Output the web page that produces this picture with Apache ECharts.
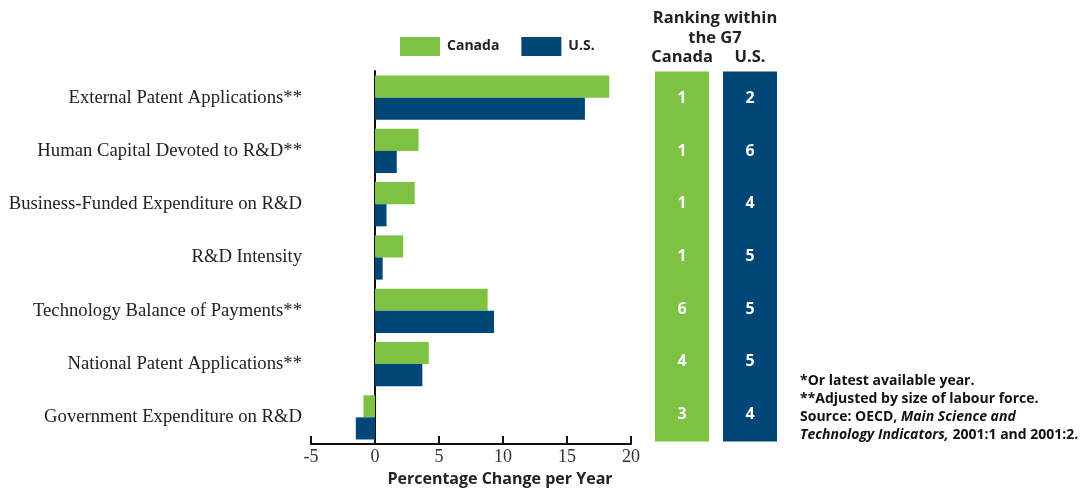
<!DOCTYPE html>
<html>
<head>
<meta charset="utf-8">
<script src="https://cdn.jsdelivr.net/npm/echarts@6/dist/echarts.min.js"></script>
<style>
  html, body { margin: 0; padding: 0; background: #fff; }
  #main { width: 1086px; height: 490px; }
</style>
</head>
<body>
<div id="main"></div>
<script>
// data
var categories = [
  'External Patent Applications**',
  'Human Capital Devoted to R&D**',
  'Business-Funded Expenditure on R&D',
  'R&D Intensity',
  'Technology Balance of Payments**',
  'National Patent Applications**',
  'Government Expenditure on R&D'
]
var canada = [18.3, 3.4, 3.1, 2.2, 8.8, 4.2, -0.9]
var us = [16.4, 1.7, 0.9, 0.6, 9.3, 3.7, -1.5]
var rankCanada = [1, 1, 1, 1, 6, 4, 3]
var rankUS = [2, 6, 4, 5, 5, 5, 4]
var rankCols = ['Canada', 'U.S.']
var xTicks = [-5, 0, 5, 10, 15, 20]

var GREEN = '#7dc243'
var BLUE = '#004677'
var SANS = '"Open Sans", "Noto Sans", sans-serif'
var SERIF = '"Liberation Serif", "DejaVu Serif", serif'

var chart = echarts.init(document.getElementById('main'))

// ranking column cells (column index, row index, rank)
function rankData (ranks, col) {
  return ranks.map(function (r, i) { return [col, i, r] })
}

function rankRender (color) {
  return function (params, api) {
    var c = api.coord([api.value(0), api.value(1)])
    var size = api.size([1, 1])
    return {
      type: 'group',
      children: [
        {
          type: 'rect',
          shape: { x: c[0] - 27, y: c[1] - size[1] / 2 - 0.5, width: 54, height: size[1] + 1 },
          style: { fill: color }
        },
        {
          type: 'text',
          style: {
            text: String(api.value(2)),
            x: c[0], y: c[1],
            align: 'center', verticalAlign: 'middle',
            fill: '#fff',
            font: 'bold 16px ' + SANS
          }
        }
      ]
    }
  }
}

chart.setOption({
  animation: false,
  legend: {
    left: 395,
    top: 32,
    itemWidth: 40,
    itemHeight: 19,
    itemGap: 22,
    icon: 'rect',
    textStyle: { fontFamily: SANS, fontWeight: 'bold', fontSize: 14, color: '#222', padding: [0, 0, 0, 2] },
    data: ['Canada', 'U.S.']
  },
  grid: [
    { left: 311, right: 455, top: 71, bottom: 46, outerBoundsMode: 'none' },
    { left: 648, width: 136, top: 72, bottom: 49, outerBoundsMode: 'none' }
  ],
  xAxis: [
    {
      gridIndex: 0,
      type: 'value',
      min: -5,
      max: 20,
      interval: 5,
      axisLine: { show: true, onZero: false, lineStyle: { color: '#111', width: 2 } },
      axisTick: { show: true, inside: true, length: 8, lineStyle: { color: '#111', width: 2 } },
      axisLabel: {
        margin: 4,
        fontFamily: SERIF,
        fontSize: 18,
        color: '#333',
        formatter: function (v) { return xTicks.indexOf(v) >= 0 ? String(v) : '' }
      },
      splitLine: { show: false },
      name: 'Percentage Change per Year',
      nameLocation: 'middle',
      nameGap: 27,
      nameTextStyle: { fontFamily: SANS, fontWeight: 'bold', fontSize: 16, color: '#222', padding: [0, 0, 0, 58] }
    },
    {
      gridIndex: 1,
      type: 'category',
      position: 'top',
      data: rankCols,
      axisLine: { show: false },
      axisTick: { show: false },
      axisLabel: { interval: 0, margin: 6, fontFamily: SANS, fontWeight: 'bold', fontSize: 16.5, color: '#222' }
    }
  ],
  yAxis: [
    {
      gridIndex: 0,
      type: 'category',
      inverse: true,
      data: categories,
      axisLine: { show: true, onZero: true, lineStyle: { color: '#111', width: 2 } },
      axisTick: { show: false },
      axisLabel: { interval: 0, margin: 9, fontFamily: SERIF, fontSize: 18.7, color: '#222' }
    },
    {
      gridIndex: 1,
      type: 'category',
      inverse: true,
      data: categories,
      show: false
    }
  ],
  graphic: [
    {
      type: 'text',
      x: 715,
      y: 8,
      style: {
        text: 'Ranking within\nthe G7',
        align: 'center',
        verticalAlign: 'top',
        lineHeight: 20,
        font: 'bold 16.5px ' + SANS,
        fill: '#222'
      }
    },
    {
      type: 'text',
      left: 800,
      top: 374,
      style: {
        text: '{b|*Or latest available year.}\n{b|**Adjusted by size of labour force.}\n{b|Source: OECD, }{i|Main Science and}\n{i|Technology Indicators,}{b| 2001:1 and 2001:2.}',
        rich: {
          b: { fontFamily: SANS, fontWeight: 'bold', fontSize: 14, lineHeight: 18, fill: '#111' },
          i: { fontFamily: SANS, fontWeight: 'bold', fontStyle: 'italic', fontSize: 14, lineHeight: 18, fill: '#111' }
        }
      }
    }
  ],
  series: [
    {
      name: 'Canada',
      type: 'bar',
      xAxisIndex: 0,
      yAxisIndex: 0,
      data: canada,
      barGap: '0%',
      barCategoryGap: '17%',
      itemStyle: { color: GREEN }
    },
    {
      name: 'U.S.',
      type: 'bar',
      xAxisIndex: 0,
      yAxisIndex: 0,
      data: us,
      barGap: '0%',
      barCategoryGap: '17%',
      itemStyle: { color: BLUE }
    },
    {
      type: 'custom',
      xAxisIndex: 1,
      yAxisIndex: 1,
      data: rankData(rankCanada, 0),
      renderItem: rankRender(GREEN)
    },
    {
      type: 'custom',
      xAxisIndex: 1,
      yAxisIndex: 1,
      data: rankData(rankUS, 1),
      renderItem: rankRender(BLUE)
    }
  ]
})
</script>
</body>
</html>
